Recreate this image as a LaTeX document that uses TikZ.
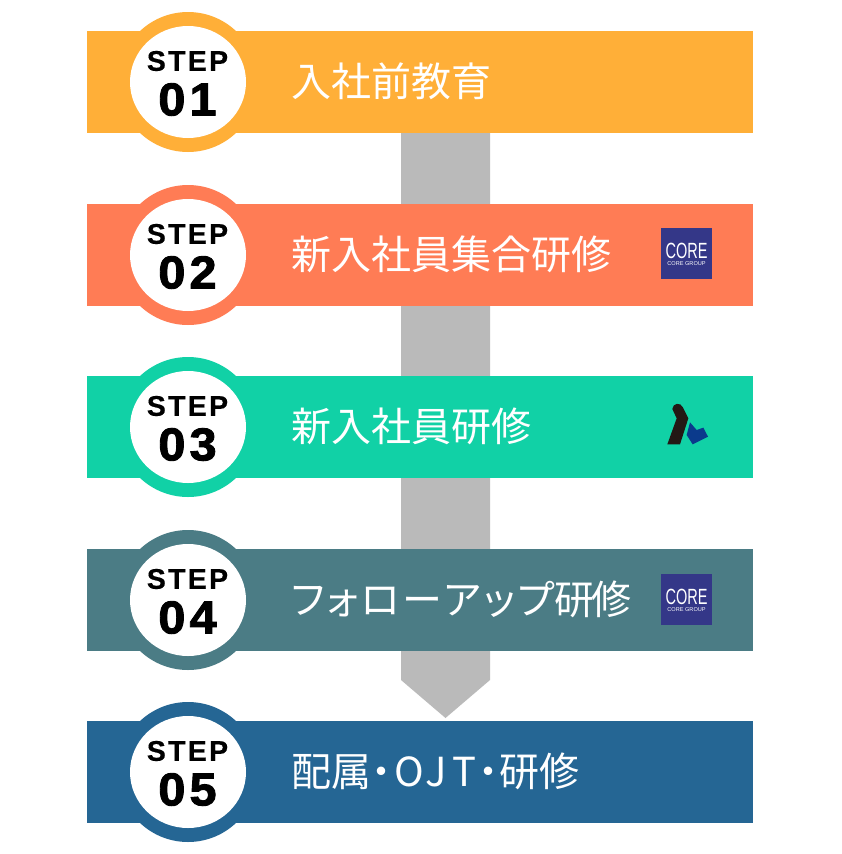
\documentclass[tikz,border=0pt]{standalone}
\usepackage{fontspec}
\setmainfont{Liberation Sans}
\newfontfamily\jpfont{Noto Sans CJK JP}
\newfontfamily\jppalt[RawFeature=+palt]{Noto Sans CJK JP}
\newfontfamily\jpfour[RawFeature=+palt,LetterSpace=6.8]{Noto Sans CJK JP}
\newfontfamily\stepfont[UprightFont=* Bold,LetterSpace=8,FakeBold=.4]{Liberation Sans}
\newfontfamily\numfont[UprightFont=* Bold,LetterSpace=9,FakeBold=2,FakeStretch=1.06]{Liberation Sans}
\definecolor{c1}{HTML}{FFAF38}
\definecolor{c2}{HTML}{FF7C55}
\definecolor{c3}{HTML}{11D1A6}
\definecolor{c4}{HTML}{4B7C85}
\definecolor{c5}{HTML}{256694}
\definecolor{shaft}{HTML}{BABABA}
\definecolor{corebg}{HTML}{343788}
\definecolor{markblack}{HTML}{231815}
\definecolor{markblue}{HTML}{0B3A8C}
\tikzset{
  title/.style={anchor=base west,inner sep=0pt,text=white,font=\fontsize{40}{40}\jpfont},
  titlepalt/.style={title,font=\fontsize{40}{40}\jppalt},
  titlefour/.style={title,font=\fontsize{40}{40}\jpfour},
  steplabel/.style={inner sep=0pt,font=\fontsize{28.5}{28.5}\stepfont},
  numlabel/.style={inner sep=0pt,font=\fontsize{46}{46}\numfont},
  coretext/.style={inner sep=0pt,text=white,font=\fontsize{22}{22}\selectfont,xscale=.66},
  coresub/.style={inner sep=0pt,text=white,font=\fontsize{5.6}{5.6}\selectfont},
}
% #1 id, #2 top of bar, #3 colour, #4 number
\newcommand\stepbar[4]{%
  \fill[#3] (87,#2) rectangle (753,#2+102);
  \fill[#3] (188,#2+51) circle[radius=70];
  \fill[white] (188,#2+51) ellipse[x radius=58,y radius=56];
  \node[steplabel] (step#1) at (187.5,#2+30) {STEP};
  \node[numlabel] (num#1) at (187.5,#2+68.5) {#4};
}
\newcommand\corelogo[2]{%
  \node[fill=corebg,minimum size=51,inner sep=0pt] (logo#1) at (686.5,#2) {};
  \node[coretext] (core#1) at (686.5,#2-3) {CORE};
  \node[coresub] (sub#1) at (686.5,#2+10) {CORE GROUP};
}
\begin{document}
\begin{tikzpicture}[x=1pt,y=-1pt]
\useasboundingbox (0,0) rectangle (841,854);
\fill[white] (0,0) rectangle (841,854);
\fill[shaft] (401,120) -- (490,120) -- (490,680) -- (445.5,718) -- (401,680) -- cycle;
\stepbar{a}{31}{c1}{01}
\stepbar{b}{204}{c2}{02}
\stepbar{c}{376}{c3}{03}
\stepbar{d}{549}{c4}{04}
\stepbar{e}{721}{c5}{05}
\node[title] (t1) at (291,96) {入社前教育};
\node[title] (t2) at (291,269) {新入社員集合研修};
\node[title] (t3) at (291,441) {新入社員研修};
\node[titlefour] (t4) at (291,614) {フォローアップ{\jppalt 研\kern-3pt 修}};
\node[titlepalt] (t5) at (291,786) {配属・\kern3pt O\kern2pt J\kern5pt T\kern2pt ・\kern1pt 研修};
\corelogo{b}{253.5}
\corelogo{d}{599.5}
\begin{scope}[shift={(640,385)},x=.3333pt,y=-.3333pt]
  \fill[markblack] (97,72) .. controls (98,53) and (122,52) .. (128,66) -- (145,100) -- (120,178) -- (82,178) -- (110,100) -- cycle;
  \fill[markblue] (150,112) -- (170,135) -- (190,128) -- (204,155) -- (158,178) -- (140,150) -- cycle;
\end{scope}
\end{tikzpicture}
\end{document}
